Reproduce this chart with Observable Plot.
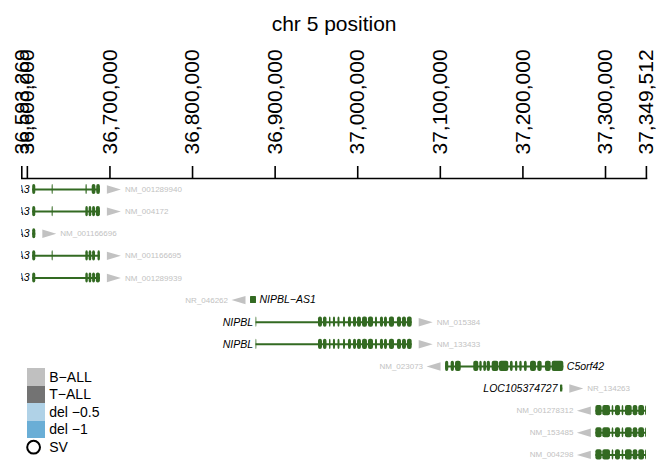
<!DOCTYPE html>
<html>
<head>
<meta charset="utf-8">
<script src="https://cdn.jsdelivr.net/npm/d3@7"></script>
<script src="https://cdn.jsdelivr.net/npm/@observablehq/plot@0.6"></script>
<style>
  html, body { margin: 0; padding: 0; background: #fff; }
  #wrap { position: relative; width: 657px; height: 465px; font-family: "Liberation Sans", Arial, sans-serif; }
  #legend { position: absolute; left: 26.7px; top: 368.3px; }
  .lrow { display: flex; align-items: center; height: 17.5px; }
  .sw { width: 18.3px; height: 17.5px; }
  .lt { margin-left: 4.3px; font-size: 14px; line-height: 17.5px; padding-top: 1px; color: #000; }
</style>
</head>
<body>
<div id="wrap"></div>
<script>
// ---- data ----
const xDomain = [36593269, 37349512];
const tickValues = [36593269, 36600000, 36700000, 36800000, 36900000, 37000000, 37100000, 37200000, 37300000, 37349512];
const chartTitle = "chr 5 position";

const txIds = ["NM_001289940", "NM_004172", "NM_001166696", "NM_001166695", "NM_001289939",
  "NR_046262", "NM_015384", "NM_133433", "NM_023073", "NR_134263",
  "NM_001278312", "NM_153485", "NM_004298"];
const txGenes = ["SLC1A3", "SLC1A3", "SLC1A3", "SLC1A3", "SLC1A3",
  "NIPBL−AS1", "NIPBL", "NIPBL", "C5orf42", "LOC105374727",
  "NUP155", "NUP155", "NUP155"];
const txStrand = [1, 1, 1, 1, 1, -1, 1, 1, -1, 1, -1, -1, -1];
const txStart = [36606457, 36606457, 36606457, 36606457, 36606457,
  36870200, 36876861, 36876861, 37106331, 37245500,
  37288338, 37288338, 37288338];
const txEnd = [36688434, 36688434, 36610200, 36688434, 36688434,
  36877400, 37065921, 37065921, 37249530, 37248300,
  37371201, 37371201, 37371201];

const nipblExons = [[36876861,36877800],[36952500,36957300],[36958500,36962800],[36965800,36967600],
  [36970600,36973100],[36976100,36978500],[36982800,36985200],[36988800,36992400],[36994900,36998500],
  [36999700,37004500],[37005800,37011800],[37013000,37019100],[37021500,37023900],[37027500,37031200],
  [37032400,37036000],[37038400,37044500],[37048100,37053000],[37054200,37059000],[37060200,37065921]];
const nup155Exons = [[37288338,37295900],[37296700,37306000],[37308100,37310000],[37312100,37318100],
  [37320200,37322100],[37324200,37332300],[37333500,37339100],[37340300,37347200],[37348400,37352000],
  [37356000,37360000],[37366000,37371201]];
const txExons = [
  [[36606457,36610200],[36630000,36631300],[36671000,36672500],[36678500,36683000],[36684000,36688434]],
  [[36606457,36610200],[36630000,36631300],[36670800,36673800],[36674800,36678000],[36679000,36682500],[36683500,36688434]],
  [[36606457,36610200]],
  [[36606457,36610200],[36630000,36631300],[36670800,36673800],[36674800,36678000],[36679000,36682500],[36685500,36688434]],
  [[36606457,36610200],[36670800,36673800],[36674800,36678000],[36679000,36682500],[36683500,36688434]],
  [[36870200,36877400]],
  nipblExons,
  nipblExons,
  [[37106331,37110200],[37113100,37117100],[37118400,37125300],[37140500,37146600],[37147800,37150700],
   [37152600,37155900],[37156700,37160700],[37162800,37170800],[37171600,37182900],[37184900,37188200],
   [37191000,37193800],[37196200,37199100],[37201900,37205200],[37209200,37216400],[37218000,37223300],
   [37227300,37234200],[37235400,37249530]],
  [[37245500,37248300]],
  nup155Exons,
  nup155Exons,
  nup155Exons
];

const legendLabels = ["B−ALL", "T−ALL", "del −0.5", "del −1"];
const legendColors = ["#c0c0c0", "#737373", "#b0d2e7", "#6aaed6"];
const svLabel = "SV";

// ---- build tables ----
const geneColor = "#336a22";
const greyColor = "#c2c2c2";
const tx = txIds.map((id, i) => ({
  id, gene: txGenes[i], strand: txStrand[i], start: txStart[i], end: txEnd[i], row: i,
  nc: id.startsWith("NR_")
}));
const exons = tx.flatMap((t, i) => txExons[i].map(([s, e]) => ({s, e, row: t.row, h: t.nc ? 0.16 : 0.23, nc: t.nc})));
const codingExons = exons.filter(d => !d.nc);
const ncExons = exons.filter(d => d.nc);
const plus = tx.filter(t => t.strand > 0);
const minus = tx.filter(t => t.strand < 0);

const triRight = {draw(ctx) { ctx.moveTo(-7, -4.2); ctx.lineTo(7, 0); ctx.lineTo(-7, 4.2); ctx.closePath(); }};
const triLeft = {draw(ctx) { ctx.moveTo(7, -4.2); ctx.lineTo(-7, 0); ctx.lineTo(7, 4.2); ctx.closePath(); }};

const chart = Plot.plot({
  width: 657,
  height: 465,
  marginLeft: 21.3,
  marginRight: 11.1,
  marginTop: 178,
  marginBottom: 3,
  x: {domain: xDomain, axis: null},
  y: {domain: [0, txIds.length - 1], range: [189, 454.4], axis: null},
  style: {fontFamily: "'Liberation Sans', Arial, sans-serif", background: "#fff", overflow: "visible"},
  marks: [
    Plot.text([chartTitle], {frameAnchor: "top", dy: -162, fontSize: 21, fill: "#000"}),
    Plot.axisX({anchor: "top", ticks: tickValues, tickFormat: d3.format(","), tickSize: 13, tickPadding: 11,
      tickRotate: -90, fontSize: 21, stroke: "#000", strokeWidth: 1.6, color: "#000"}),
    Plot.frame({anchor: "top", stroke: "#000", strokeWidth: 1.6}),
    Plot.ruleY(tx, {y: "row", x1: "start", x2: "end", stroke: geneColor, strokeWidth: 2, clip: true}),
    Plot.rect(codingExons, {x1: "s", x2: "e", y1: d => d.row - d.h, y2: d => d.row + d.h, fill: geneColor, rx: 2, clip: true}),
    Plot.rect(ncExons, {x1: "s", x2: "e", y1: d => d.row - d.h, y2: d => d.row + d.h, fill: geneColor, rx: 0.6, clip: true}),
    Plot.dot(plus, {x: "end", y: "row", symbol: triRight, dx: 13.5, fill: greyColor, stroke: "none", clip: true}),
    Plot.dot(minus, {x: "start", y: "row", symbol: triLeft, dx: -12, fill: greyColor, stroke: "none", clip: true}),
    Plot.text(plus, {x: "end", y: "row", text: "id", dx: 24.5, textAnchor: "start", fontSize: 8, fill: greyColor, clip: true}),
    Plot.text(minus, {x: "start", y: "row", text: "id", dx: -22.5, textAnchor: "end", fontSize: 8, fill: greyColor, clip: true}),
    Plot.text(plus, {x: "start", y: "row", text: "gene", dx: -3, textAnchor: "end", fontSize: 10.5, fontStyle: "italic", fill: "#000", clip: true}),
    Plot.text(minus, {x: "end", y: "row", text: "gene", dx: 3, textAnchor: "start", fontSize: 10.5, fontStyle: "italic", fill: "#000", clip: true})
  ]
});

const wrap = document.getElementById("wrap");
wrap.appendChild(chart);

// legend
const legend = document.createElement("div");
legend.id = "legend";
legendLabels.forEach((lab, i) => {
  const row = document.createElement("div");
  row.className = "lrow";
  const sw = document.createElement("div");
  sw.className = "sw";
  sw.style.background = legendColors[i];
  const t = document.createElement("div");
  t.className = "lt";
  t.textContent = lab;
  row.appendChild(sw); row.appendChild(t);
  legend.appendChild(row);
});
const svRow = document.createElement("div");
svRow.className = "lrow";
svRow.innerHTML = '<svg width="18.3" height="17.5" style="display:block;overflow:visible"><circle cx="6.6" cy="9.2" r="6.4" fill="none" stroke="#000" stroke-width="2"/></svg>';
const svText = document.createElement("div");
svText.className = "lt";
svText.textContent = svLabel;
svRow.appendChild(svText);
legend.appendChild(svRow);
wrap.appendChild(legend);
</script>
</body>
</html>
